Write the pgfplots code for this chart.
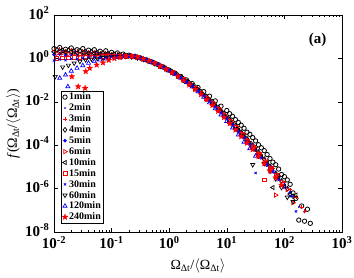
\documentclass[border=0pt]{standalone}
\usepackage{pgfplots}
\pgfplotsset{compat=1.18}
\usepackage{fontspec}
\setmainfont{Liberation Serif}
\newcommand\tl[1]{\textbf{10\textsuperscript{#1}}}
\pgfdeclareplotmark{pentastar}{%
  \pgfpathmoveto{\pgfpointpolar{90}{\pgfplotmarksize}}%
  \pgfpathlineto{\pgfpointpolar{126}{0.42\pgfplotmarksize}}%
  \pgfpathlineto{\pgfpointpolar{162}{\pgfplotmarksize}}%
  \pgfpathlineto{\pgfpointpolar{198}{0.42\pgfplotmarksize}}%
  \pgfpathlineto{\pgfpointpolar{234}{\pgfplotmarksize}}%
  \pgfpathlineto{\pgfpointpolar{270}{0.42\pgfplotmarksize}}%
  \pgfpathlineto{\pgfpointpolar{306}{\pgfplotmarksize}}%
  \pgfpathlineto{\pgfpointpolar{342}{0.42\pgfplotmarksize}}%
  \pgfpathlineto{\pgfpointpolar{18}{\pgfplotmarksize}}%
  \pgfpathlineto{\pgfpointpolar{54}{0.42\pgfplotmarksize}}%
  \pgfpathclose\pgfusepathqfillstroke}
\begin{document}
\begin{tikzpicture}
\useasboundingbox (-54pt,-46pt) rectangle (300pt,232pt);
\begin{axis}[
  at={(0,0)}, anchor=south west,
  scale only axis, width=288pt, height=217pt,
  xmode=log, ymode=log,
  xmin=1e-2, xmax=1e3, ymin=1e-8, ymax=1e2,
  xtick={1e-2,1e-1,1,10,100,1000},
  xticklabels={\tl{-2},\tl{-1},\tl{0},\tl{1},\tl{2},\tl{3}},
  minor xtick={2e-2,3e-2,4e-2,5e-2,6e-2,7e-2,8e-2,9e-2,0.2,0.3,0.4,0.5,0.6,0.7,0.8,0.9,2,3,4,5,6,7,8,9,20,30,40,50,60,70,80,90,200,300,400,500,600,700,800,900},
  ytick={1e-8,1e-6,1e-4,1e-2,1,100},
  yticklabels={\tl{-8},\tl{-6},\tl{-4},\tl{-2},\tl{0},\tl{2}},
  minor ytick={},
  tick pos=both, xticklabel pos=lower, yticklabel pos=left,
  tick align=inside,
  major tick length=4pt, minor tick length=2pt,
  every tick/.style={black, line width=0.5pt},
  axis line style={line width=0.7pt},
  tick label style={font=\fontsize{15}{15}\selectfont},
  xticklabel style={yshift=-1pt},
  yticklabel style={yshift=2pt, xshift=-1pt},
  xlabel={Ω\textsubscript{Δt}/$\langle$Ω\textsubscript{Δt}$\rangle$},
  ylabel={\textit{f}(Ω\textsubscript{Δt}/$\langle$Ω\textsubscript{Δt}$\rangle$)},
  label style={font=\fontsize{14}{14}\selectfont},
  xlabel style={yshift=-3pt},
  ylabel style={yshift=-2pt},
  legend cell align=left,
  legend style={at={(0.024,0.652)}, anchor=north west, draw=black, line width=0.5pt,
    font=\bfseries\fontsize{10}{10}\selectfont, inner sep=1pt, row sep=0.2pt,
    nodes={inner sep=1.3pt, text height=6.9pt, text depth=1.2pt}},
  clip=false,
]
% 1min
\addplot[only marks, mark=o, black, mark size=2.2pt, line width=0.8pt] coordinates {
(0.01,2.82)(0.01259,3.16)(0.01585,2.63)(0.01995,3.02)(0.02512,2.51)(0.03162,2.82)(0.03981,2.40)(0.05012,2.51)(0.0631,2.14)(0.07943,2.24)
(0.1,1.91)(0.1259,1.78)(0.1585,1.58)(0.1995,1.41)(0.2512,1.26)(0.3162,1.05)(0.3981,0.851)(0.5012,0.676)(0.631,0.525)(0.7943,0.398)
(1,0.288)(1.259,0.209)(1.585,0.148)(1.995,0.102)(2.512,6.92e-2)(3.162,4.57e-2)(3.981,2.95e-2)(5.012,1.82e-2)(6.31,1.10e-2)(7.943,6.31e-3)
(10,3.98e-3)(11.22,2.82e-3)(12.59,2.14e-3)(14.13,1.51e-3)(15.85,1.12e-3)(17.78,8.32e-4)(19.95,6.03e-4)(22.39,3.98e-4)(25.12,3.16e-4)(28.18,2.24e-4)
(31.62,1.58e-4)(35.48,1.05e-4)(39.81,7.59e-5)(44.67,5.62e-5)(50.12,3.72e-5)(56.23,2.40e-5)(63.1,1.66e-5)(70.79,1.26e-5)(79.43,7.94e-6)(89.13,4.47e-6)
(100,3.55e-6)(112.2,2.51e-6)(125.9,1.58e-6)(141.3,6.31e-7)(158.5,3.55e-7)(177.8,3.55e-8)(199.5,1.58e-7)(223.9,3.16e-8)(251.2,1.12e-7)(281.8,2.51e-8)
};
\addlegendentry{1min}
% 2min
\addplot[only marks, mark=*, blue, mark size=0.6pt] coordinates {
(0.01122,2.00)(0.01413,2.24)(0.01778,1.91)(0.02239,2.09)(0.02818,1.86)(0.03548,2.00)(0.04467,1.78)(0.05623,1.86)(0.07079,1.66)(0.08913,1.66)
(0.1122,1.51)(0.1413,1.45)(0.1778,1.38)(0.2239,1.32)(0.2818,1.15)(0.3548,0.977)(0.4467,0.794)(0.5623,0.617)(0.7079,0.468)(0.8913,0.347)
(1.122,0.245)(1.413,0.174)(1.778,0.117)(2.239,7.59e-2)(2.818,4.90e-2)(3.548,3.02e-2)(4.467,1.78e-2)(5.623,1.02e-2)(7.079,5.62e-3)(8.913,3.02e-3)
(11.22,1.58e-3)(14.13,8.32e-4)(17.78,4.27e-4)(22.39,2.19e-4)(28.18,1.10e-4)(35.48,5.37e-5)(44.67,2.51e-5)(56.23,1.20e-5)(70.79,5.62e-6)(89.13,2.51e-6)
(112.2,1.12e-6)(141.3,4.47e-7)(177.8,1.41e-7)(223.9,7.94e-8)
};
\addlegendentry{2min}
% 3min
\addplot[only marks, mark=+, red, mark size=2pt, line width=0.7pt] coordinates {
(0.01,2.40)(0.01259,2.63)(0.01585,2.24)(0.01995,2.51)(0.02512,2.14)(0.03162,2.29)(0.03981,2.00)(0.05012,2.04)(0.0631,1.82)(0.07943,1.78)
(0.1,1.62)(0.1259,1.55)(0.1585,1.45)(0.1995,1.35)(0.2512,1.23)(0.3162,1.05)(0.3981,0.871)(0.5012,0.692)(0.631,0.537)(0.7943,0.398)
(1,0.288)(1.259,0.204)(1.585,0.138)(1.995,9.12e-2)(2.512,5.89e-2)(3.162,3.72e-2)(3.981,2.24e-2)(5.012,1.32e-2)(6.31,7.59e-3)(7.943,4.17e-3)
(10,2.24e-3)(12.59,1.17e-3)(15.85,6.03e-4)(19.95,3.16e-4)(25.12,1.58e-4)(31.62,7.94e-5)(39.81,3.80e-5)(50.12,1.82e-5)(63.1,8.91e-6)(79.43,4.17e-6)
(100,1.91e-6)(125.9,8.91e-7)(158.5,3.98e-7)(199.5,1.41e-7)(223.9,8.91e-8)
};
\addlegendentry{3min}
% 4min
\addplot[only marks, mark=diamond, black, mark size=2.4pt, line width=0.7pt] coordinates {
(0.01122,2.51)(0.01413,2.29)(0.01778,2.40)(0.02239,2.14)(0.02818,2.24)(0.03548,2.00)(0.04467,2.00)(0.05623,1.82)(0.07079,1.74)(0.08913,1.58)
(0.1122,1.51)(0.1413,1.41)(0.1778,1.35)(0.2239,1.26)(0.2818,1.12)(0.3548,0.933)(0.4467,0.759)(0.5623,0.603)(0.7079,0.457)(0.8913,0.339)
(1.122,0.245)(1.413,0.170)(1.778,0.115)(2.239,7.41e-2)(2.818,4.79e-2)(3.548,2.95e-2)(4.467,1.74e-2)(5.623,1.00e-2)(7.079,5.50e-3)(8.913,2.95e-3)
(11.22,1.51e-3)(14.13,7.94e-4)(17.78,3.98e-4)(22.39,2.00e-4)(28.18,1.00e-4)(35.48,4.79e-5)(44.67,2.29e-5)(56.23,1.07e-5)(70.79,5.01e-6)(89.13,2.24e-6)
(112.2,1.00e-6)(141.3,4.47e-7)
};
\addlegendentry{4min}
% 5min
\addplot[only marks, mark=*, blue, mark size=1.5pt] coordinates {
(0.01,1.51)(0.01259,1.58)(0.01585,1.41)(0.01995,1.51)(0.02512,1.38)(0.03162,1.45)(0.03981,1.35)(0.05012,1.38)(0.0631,1.29)(0.07943,1.32)
(0.1,1.26)(0.1259,1.29)(0.1585,1.29)(0.1995,1.26)(0.2512,1.17)(0.3162,1.02)(0.3981,0.851)(0.5012,0.676)(0.631,0.525)(0.7943,0.389)
(1,0.282)(1.259,0.200)(1.585,0.135)(1.995,8.91e-2)(2.512,5.62e-2)(3.162,3.47e-2)(3.981,2.04e-2)(5.012,1.17e-2)(6.31,6.61e-3)(7.943,3.55e-3)
(10,1.86e-3)(12.59,9.55e-4)(15.85,4.90e-4)(19.95,2.51e-4)(25.12,1.26e-4)(31.62,6.31e-5)(39.81,3.02e-5)(50.12,1.45e-5)(63.1,6.92e-6)(79.43,3.16e-6)
(100,1.51e-6)(125.9,6.61e-7)
};
\addlegendentry{5min}
% 6min
\addplot[only marks, mark=triangle, red, mark size=2.4pt, line width=0.7pt, mark options={rotate=-90}] coordinates {
(0.01122,1.66)(0.01413,1.78)(0.01778,1.58)(0.02239,1.70)(0.02818,1.51)(0.03548,1.58)(0.04467,1.45)(0.05623,1.48)(0.07079,1.38)(0.08913,1.38)
(0.1122,1.32)(0.1413,1.32)(0.1778,1.29)(0.2239,1.26)(0.2818,1.12)(0.3548,0.955)(0.4467,0.776)(0.5623,0.603)(0.7079,0.457)(0.8913,0.331)
(1.122,0.234)(1.413,0.162)(1.778,0.110)(2.239,7.08e-2)(2.818,4.47e-2)(3.548,2.69e-2)(4.467,1.58e-2)(5.623,8.91e-3)(7.079,4.90e-3)(8.913,2.63e-3)
(11.22,1.38e-3)(14.13,7.08e-4)(17.78,3.55e-4)(22.39,1.78e-4)(28.18,8.91e-5)(35.48,4.37e-5)(44.67,2.00e-5)(56.23,9.55e-6)(70.79,5.01e-7)(89.13,2.00e-6)
(112.2,8.91e-7)(141.3,2.24e-7)
};
\addlegendentry{6min}
% 10min
\addplot[only marks, mark=triangle, black, mark size=2.4pt, line width=0.7pt, mark options={rotate=90}] coordinates {
(0.01,2.00)(0.01259,2.14)(0.01585,1.91)(0.01995,2.00)(0.02512,1.82)(0.03162,1.86)(0.03981,1.70)(0.05012,1.70)(0.0631,1.58)(0.07943,1.55)
(0.1,1.45)(0.1259,1.41)(0.1585,1.35)(0.1995,1.29)(0.2512,1.17)(0.3162,1.00)(0.3981,0.832)(0.5012,0.661)(0.631,0.513)(0.7943,0.380)
(1,0.275)(1.259,0.195)(1.585,0.132)(1.995,8.71e-2)(2.512,5.50e-2)(3.162,3.39e-2)(3.981,2.00e-2)(5.012,1.15e-2)(6.31,6.46e-3)(7.943,3.47e-3)
(10,1.82e-3)(12.59,9.33e-4)(15.85,4.79e-4)(19.95,2.40e-4)(25.12,1.20e-4)(31.62,6.03e-5)(39.81,2.82e-5)(50.12,1.41e-5)(63.1,1.12e-6)(79.43,3.16e-6)
(100,1.26e-6)(125.9,5.62e-7)(158.5,5.01e-7)
};
\addlegendentry{10min}
% 15min
\addplot[only marks, mark=square, red, mark size=1.9pt, line width=0.7pt] coordinates {
(0.01122,1.00)(0.01413,1.05)(0.01778,1.07)(0.02239,1.10)(0.02818,1.12)(0.03548,1.15)(0.04467,1.17)(0.05623,1.17)(0.07079,1.20)(0.08913,1.20)
(0.1122,1.23)(0.1413,1.26)(0.1778,1.26)(0.2239,1.23)(0.2818,1.12)(0.3548,0.955)(0.4467,0.776)(0.5623,0.603)(0.7079,0.447)(0.8913,0.331)
(1.122,0.229)(1.413,0.158)(1.778,0.105)(2.239,6.76e-2)(2.818,4.27e-2)(3.548,2.57e-2)(4.467,1.48e-2)(5.623,8.32e-3)(7.079,4.57e-3)(8.913,2.40e-3)
(11.22,1.26e-3)(14.13,6.46e-4)(17.78,3.24e-4)(22.39,1.58e-4)(28.18,7.94e-5)(35.48,3.80e-5)(44.67,2.51e-6)(56.23,8.91e-6)(70.79,3.98e-6)
};
\addlegendentry{15min}
% 30min
\addplot[only marks, mark=x, blue, mark size=1.6pt, line width=0.7pt] coordinates {
(0.01,0.794)(0.01259,0.891)(0.01585,0.832)(0.01995,0.955)(0.02512,0.933)(0.03162,1.02)(0.03981,1.05)(0.05012,1.10)(0.0631,1.12)(0.07943,1.17)
(0.1,1.20)(0.1259,1.23)(0.1585,1.26)(0.1995,1.23)(0.2512,1.15)(0.3162,0.977)(0.3981,0.813)(0.5012,0.646)(0.631,0.501)(0.7943,0.372)
(1,0.269)(1.259,0.186)(1.585,0.126)(1.995,8.13e-2)(2.512,5.13e-2)(3.162,3.09e-2)(3.981,1.82e-2)(5.012,1.02e-2)(6.31,5.62e-3)(7.943,3.02e-3)
(10,1.58e-3)(12.59,8.13e-4)(15.85,4.17e-4)(19.95,2.09e-4)(25.12,1.05e-4)(31.62,5.25e-6)(39.81,2.51e-5)(50.12,1.12e-5)(63.1,5.62e-6)(79.43,2.51e-6)
(100,1.12e-6)(125.9,4.47e-7)(158.5,8.91e-8)
};
\addlegendentry{30min}
% 60min
\addplot[only marks, mark=triangle, black, mark size=2.4pt, line width=0.7pt, mark options={rotate=180}] coordinates {
(0.0105,0.145)(0.01413,0.398)(0.01778,0.479)(0.02239,0.603)(0.02818,0.724)(0.03548,0.851)(0.04467,0.933)(0.05623,1.00)(0.07079,1.07)(0.08913,1.12)
(0.1122,1.17)(0.1413,1.20)(0.1778,1.23)(0.2239,1.17)(0.2818,1.07)(0.3548,0.912)(0.4467,0.741)(0.5623,0.575)(0.7079,0.437)(0.8913,0.316)
(1.122,0.224)(1.413,0.151)(1.778,0.100)(2.239,6.46e-2)(2.818,3.98e-2)(3.548,2.40e-2)(4.467,1.38e-2)(5.623,7.76e-3)(7.079,4.17e-3)(8.913,2.19e-3)
(11.22,1.12e-3)(14.13,5.75e-4)(17.78,2.82e-4)(22.39,1.38e-4)(28.18,1.26e-5)(35.48,3.16e-5)(44.67,1.41e-5)(56.23,6.31e-6)(70.79,2.82e-6)(89.13,1.12e-6)
(112.2,3.98e-7)(141.3,2.51e-7)
};
\addlegendentry{60min}
% 120min
\addplot[only marks, mark=triangle, blue, mark size=2.4pt, line width=0.7pt] coordinates {
(0.01259,0.123)(0.01585,0.174)(0.0174,5.01e-2)(0.01995,0.263)(0.02512,0.355)(0.03162,0.468)(0.03981,0.603)(0.05012,0.724)(0.0631,0.851)(0.07943,0.955)
(0.1,1.05)(0.1259,1.12)(0.1585,1.20)(0.1995,1.23)(0.2512,1.17)(0.3162,1.02)(0.3981,0.851)(0.5012,0.676)(0.631,0.513)(0.7943,0.380)
(1,0.269)(1.259,0.186)(1.585,0.123)(1.995,7.94e-2)(2.512,4.90e-2)(3.162,2.95e-2)(3.981,1.66e-2)(5.012,9.12e-3)(6.31,4.90e-3)(7.943,2.51e-3)
(10,1.26e-3)(12.59,6.31e-4)(15.85,3.02e-4)(19.95,1.41e-4)(25.12,7.08e-5)(31.62,3.16e-5)
};
\addlegendentry{120min}
% 240min
\addplot[only marks, mark=pentastar, red, fill=red, mark size=3pt, line width=0.3pt] coordinates {
(0.0204,0.145)(0.0263,5.01e-2)(0.0347,4.27e-2)(0.0355,0.251)(0.0417,0.355)(0.055,0.501)(0.0708,0.631)(0.0891,0.832)
(0.1122,1.00)(0.1413,1.12)(0.1778,1.23)(0.2239,1.23)(0.2818,1.12)(0.3548,0.933)(0.4467,0.759)(0.5623,0.589)(0.7079,0.437)(0.8913,0.316)
(1.122,0.219)(1.413,0.148)(1.778,9.55e-2)(2.239,6.03e-2)(2.818,3.72e-2)(3.548,2.19e-2)(4.467,1.26e-2)(5.623,6.92e-3)(7.079,3.72e-3)(8.913,1.91e-3)
(11.22,1.00e-3)(14.13,5.01e-4)(17.78,2.51e-4)(22.39,1.26e-4)(28.18,6.31e-5)(35.48,3.02e-5)(44.67,1.41e-5)(56.23,6.61e-6)(70.79,3.16e-6)(89.13,1.41e-6)
};
\addlegendentry{240min}
\node[font=\bfseries\fontsize{15}{15}\selectfont] at (rel axis cs:0.915,0.885) {(a)};
\end{axis}
\end{tikzpicture}
\end{document}
